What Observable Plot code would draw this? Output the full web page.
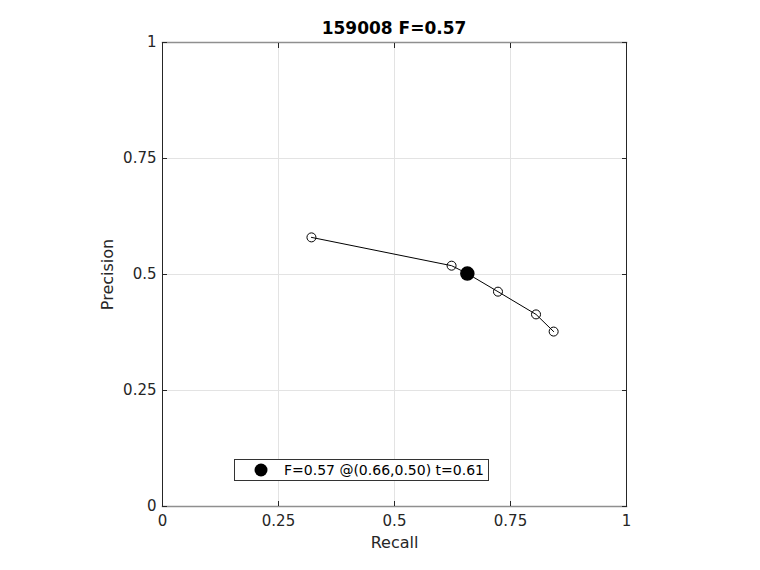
<!DOCTYPE html>
<html>
<head>
<meta charset="utf-8">
<script src="https://cdn.jsdelivr.net/npm/d3@7"></script>
<script src="https://cdn.jsdelivr.net/npm/@observablehq/plot@0.6"></script>
<style>
  html, body { margin: 0; padding: 0; background: #fff; }
  #chart { width: 760px; height: 570px; }
  svg { font-family: "DejaVu Sans", sans-serif; }
</style>
</head>
<body>
<div id="chart"></div>
<script>
const recall    = [0.321, 0.623, 0.723, 0.805, 0.843];
const precision = [0.580, 0.519, 0.463, 0.414, 0.377];
const bestRecall = [0.657];
const bestPrecision = [0.502];
const tickValues = [0, 0.25, 0.5, 0.75, 1];
const tickLabels = ["0", "0.25", "0.5", "0.75", "1"];
const titleText = "159008 F=0.57";
const legendText = "F=0.57 @(0.66,0.50) t=0.61";

const pts = recall.map((r, i) => ({r, p: precision[i]}));
const best = bestRecall.map((r, i) => ({r, p: bestPrecision[i]}));
const fmt = d => tickLabels[tickValues.indexOf(d)];

const W = 760, H = 570, ML = 162, MR = 134, MT = 42, MB = 64;
const dark = "#262626", grey = "#8f8f8f";

const plot = Plot.plot({
  width: W, height: H,
  marginLeft: ML, marginRight: MR, marginTop: MT, marginBottom: MB,
  x: {domain: [0, 1]},
  y: {domain: [0, 1]},
  style: {fontFamily: "DejaVu Sans, sans-serif", fontSize: "15px", color: dark, background: "#fff"},
  marks: [
    Plot.gridX(tickValues, {stroke: "#e3e3e3", strokeOpacity: 1, strokeWidth: 1}),
    Plot.gridY(tickValues, {stroke: "#e3e3e3", strokeOpacity: 1, strokeWidth: 1}),
    // box
    Plot.frame({anchor: "top", stroke: grey, strokeWidth: 1.5}),
    Plot.frame({anchor: "bottom", stroke: grey, strokeWidth: 1.5}),
    Plot.frame({anchor: "left", stroke: dark, strokeWidth: 1}),
    Plot.frame({anchor: "right", stroke: dark, strokeWidth: 1}),
    // inward ticks
    Plot.axisX(tickValues, {anchor: "bottom", tickSize: -5, stroke: dark, text: null, label: null}),
    Plot.axisX(tickValues, {anchor: "top", tickSize: -5, stroke: dark, text: null, label: null}),
    Plot.axisY(tickValues, {anchor: "left", tickSize: -5, stroke: dark, text: null, label: null}),
    Plot.axisY(tickValues, {anchor: "right", tickSize: -5, stroke: dark, text: null, label: null}),
    // tick labels
    Plot.axisX(tickValues, {anchor: "bottom", tickSize: 0, tickPadding: 9, tickFormat: fmt, fill: dark,
      label: "Recall", labelAnchor: "center", labelArrow: "none", labelOffset: 41}),
    Plot.axisY(tickValues, {anchor: "left", tickSize: 0, tickPadding: 6, tickFormat: fmt, fill: dark,
      label: "Precision", labelAnchor: "center", labelArrow: "none", labelOffset: 61}),
    // data
    Plot.line(pts.slice(0, 2).concat(best, pts.slice(2)), {x: "r", y: "p", stroke: "#000", strokeWidth: 1}),
    Plot.dot(pts, {x: "r", y: "p", r: 4.5, stroke: "#000", fill: "none", strokeWidth: 1}),
    Plot.dot(best, {x: "r", y: "p", r: 6.5, fill: "#000", stroke: "#000"}),
  ]
});

const svg = d3.select(plot);
// enforce font sizes on axis texts
svg.selectAll("text").style("font-size", "15px");
svg.selectAll("text").filter(function() {
  const t = this.textContent; return t === "Recall" || t === "Precision";
}).style("font-size", "16px");

svg.append("text").attr("x", ML + (W - ML - MR) / 2).attr("y", 34)
  .attr("text-anchor", "middle").attr("font-weight", "bold").style("font-size", "17px")
  .attr("fill", "#000").text(titleText);

const lg = svg.append("g");
lg.append("rect").attr("x", 234.5).attr("y", 459.5).attr("width", 254).attr("height", 21)
  .attr("fill", "#fff").attr("stroke", "#333").attr("stroke-width", 1);
lg.append("circle").attr("cx", 261).attr("cy", 470).attr("r", 6.5).attr("fill", "#000");
lg.append("text").attr("x", 284).attr("y", 475).attr("text-anchor", "start")
  .style("font-size", "14px").attr("fill", "#000").text(legendText);

document.getElementById("chart").appendChild(plot);
</script>
</body>
</html>
